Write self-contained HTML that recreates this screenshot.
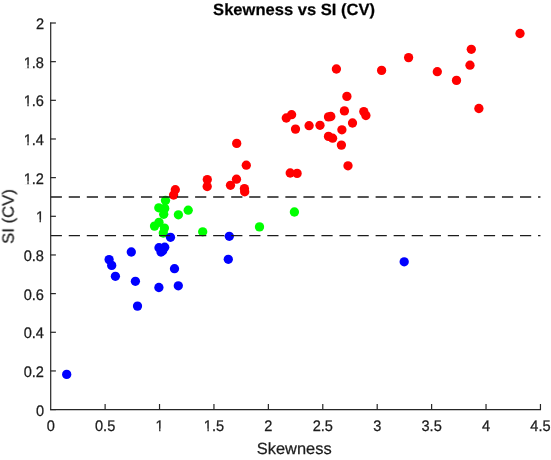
<!DOCTYPE html>
<html><head><meta charset="utf-8"><style>
html,body{margin:0;padding:0;background:#fff;width:551px;height:460px;overflow:hidden}
svg{display:block}
text{font-family:"Liberation Sans",sans-serif;fill:#1c1c1c;stroke:#1c1c1c;stroke-width:0.25px;text-rendering:geometricPrecision}
</style></head><body>
<svg width="551" height="460" viewBox="0 0 551 460">
<g fill="#00ff00"><circle cx="165.5" cy="200.5" r="4.65"/><circle cx="158.8" cy="207.8" r="4.65"/><circle cx="164.7" cy="208.4" r="4.65"/><circle cx="163.7" cy="214.3" r="4.65"/><circle cx="159.0" cy="222.3" r="4.65"/><circle cx="154.5" cy="226.1" r="4.65"/><circle cx="164.4" cy="228.1" r="4.65"/><circle cx="163.3" cy="233.0" r="4.65"/><circle cx="178.4" cy="214.8" r="4.65"/><circle cx="188.2" cy="210.2" r="4.65"/><circle cx="202.7" cy="231.8" r="4.65"/><circle cx="259.5" cy="226.9" r="4.65"/><circle cx="294.4" cy="212.0" r="4.65"/></g>
<g fill="#ff0000"><circle cx="175.3" cy="189.7" r="4.65"/><circle cx="173.6" cy="195.0" r="4.65"/><circle cx="207.3" cy="179.6" r="4.65"/><circle cx="207.2" cy="186.5" r="4.65"/><circle cx="236.5" cy="179.2" r="4.65"/><circle cx="230.5" cy="185.3" r="4.65"/><circle cx="244.4" cy="188.6" r="4.65"/><circle cx="244.7" cy="191.8" r="4.65"/><circle cx="236.7" cy="143.4" r="4.65"/><circle cx="246.3" cy="165.2" r="4.65"/><circle cx="286.3" cy="118.0" r="4.65"/><circle cx="291.6" cy="114.7" r="4.65"/><circle cx="295.5" cy="129.1" r="4.65"/><circle cx="309.1" cy="125.7" r="4.65"/><circle cx="320.0" cy="125.3" r="4.65"/><circle cx="328.5" cy="116.9" r="4.65"/><circle cx="330.8" cy="116.5" r="4.65"/><circle cx="344.4" cy="110.9" r="4.65"/><circle cx="341.9" cy="129.8" r="4.65"/><circle cx="352.5" cy="123.0" r="4.65"/><circle cx="328.5" cy="136.4" r="4.65"/><circle cx="332.6" cy="138.2" r="4.65"/><circle cx="341.4" cy="145.1" r="4.65"/><circle cx="348.0" cy="165.8" r="4.65"/><circle cx="290.2" cy="173.0" r="4.65"/><circle cx="297.1" cy="173.4" r="4.65"/><circle cx="336.4" cy="69.0" r="4.65"/><circle cx="346.9" cy="96.4" r="4.65"/><circle cx="363.8" cy="111.6" r="4.65"/><circle cx="365.9" cy="115.5" r="4.65"/><circle cx="381.6" cy="70.4" r="4.65"/><circle cx="408.6" cy="57.6" r="4.65"/><circle cx="437.3" cy="71.7" r="4.65"/><circle cx="456.5" cy="80.4" r="4.65"/><circle cx="471.3" cy="49.3" r="4.65"/><circle cx="470.0" cy="65.2" r="4.65"/><circle cx="478.9" cy="108.5" r="4.65"/><circle cx="520.0" cy="33.5" r="4.65"/></g>
<g fill="#0000ff"><circle cx="66.7" cy="374.4" r="4.65"/><circle cx="109.1" cy="259.6" r="4.65"/><circle cx="111.7" cy="265.4" r="4.65"/><circle cx="115.4" cy="276.3" r="4.65"/><circle cx="131.3" cy="252.0" r="4.65"/><circle cx="135.4" cy="281.3" r="4.65"/><circle cx="137.5" cy="306.1" r="4.65"/><circle cx="158.9" cy="287.5" r="4.65"/><circle cx="174.5" cy="268.7" r="4.65"/><circle cx="178.3" cy="285.8" r="4.65"/><circle cx="159.0" cy="247.7" r="4.65"/><circle cx="164.7" cy="247.2" r="4.65"/><circle cx="161.0" cy="252.0" r="4.65"/><circle cx="162.7" cy="250.7" r="4.65"/><circle cx="170.5" cy="237.3" r="4.65"/><circle cx="229.3" cy="236.3" r="4.65"/><circle cx="228.3" cy="259.3" r="4.65"/><circle cx="404.2" cy="261.8" r="4.65"/></g>
<line x1="50.70" y1="196.97" x2="540.45" y2="196.97" stroke="#1c1c1c" stroke-width="1.4" stroke-dasharray="11.2 6.85"/>
<line x1="50.70" y1="235.63" x2="540.45" y2="235.63" stroke="#1c1c1c" stroke-width="1.4" stroke-dasharray="11.2 6.85"/>
<g stroke="#262626" stroke-width="1.20" fill="none"><path d="M50.70 22.40 V409.60 H541.05"/><path d="M105.12 409.60 V404.00"/><path d="M159.53 409.60 V404.00"/><path d="M213.95 409.60 V404.00"/><path d="M268.37 409.60 V404.00"/><path d="M322.78 409.60 V404.00"/><path d="M377.20 409.60 V404.00"/><path d="M431.62 409.60 V404.00"/><path d="M486.03 409.60 V404.00"/><path d="M540.45 409.60 V404.00"/><path d="M50.10 409.60 H55.90"/><path d="M50.10 370.94 H55.90"/><path d="M50.10 332.28 H55.90"/><path d="M50.10 293.62 H55.90"/><path d="M50.10 254.96 H55.90"/><path d="M50.10 216.30 H55.90"/><path d="M50.10 177.64 H55.90"/><path d="M50.10 138.98 H55.90"/><path d="M50.10 100.32 H55.90"/><path d="M50.10 61.66 H55.90"/><path d="M50.10 23.00 H55.90"/></g>
<g font-size="14.6" style="will-change:transform"><text transform="translate(50.70 431.20) scale(1 1.050)" text-anchor="middle">0</text><text transform="translate(105.12 431.20) scale(1 1.050)" text-anchor="middle">0.5</text><text transform="translate(159.53 431.20) scale(1 1.050)" text-anchor="middle">1</text><text transform="translate(213.95 431.20) scale(1 1.050)" text-anchor="middle">1.5</text><text transform="translate(268.37 431.20) scale(1 1.050)" text-anchor="middle">2</text><text transform="translate(322.78 431.20) scale(1 1.050)" text-anchor="middle">2.5</text><text transform="translate(377.20 431.20) scale(1 1.050)" text-anchor="middle">3</text><text transform="translate(431.62 431.20) scale(1 1.050)" text-anchor="middle">3.5</text><text transform="translate(486.03 431.20) scale(1 1.050)" text-anchor="middle">4</text><text transform="translate(540.45 431.20) scale(1 1.050)" text-anchor="middle">4.5</text><text transform="translate(44.00 415.50) scale(1 1.050)" text-anchor="end">0</text><text transform="translate(44.00 376.84) scale(1 1.050)" text-anchor="end">0.2</text><text transform="translate(44.00 338.18) scale(1 1.050)" text-anchor="end">0.4</text><text transform="translate(44.00 299.52) scale(1 1.050)" text-anchor="end">0.6</text><text transform="translate(44.00 260.86) scale(1 1.050)" text-anchor="end">0.8</text><text transform="translate(44.00 222.20) scale(1 1.050)" text-anchor="end">1</text><text transform="translate(44.00 183.54) scale(1 1.050)" text-anchor="end">1.2</text><text transform="translate(44.00 144.88) scale(1 1.050)" text-anchor="end">1.4</text><text transform="translate(44.00 106.22) scale(1 1.050)" text-anchor="end">1.6</text><text transform="translate(44.00 67.56) scale(1 1.050)" text-anchor="end">1.8</text><text transform="translate(44.00 28.90) scale(1 1.050)" text-anchor="end">2</text></g>
<g fill="#fff"><rect x="154.97" y="428.60" width="4.17" height="3.80"/><rect x="160.44" y="428.60" width="3.44" height="3.80"/><rect x="203.30" y="428.60" width="4.17" height="3.80"/><rect x="208.76" y="428.60" width="3.44" height="3.80"/><rect x="35.38" y="219.60" width="4.17" height="3.80"/><rect x="40.84" y="219.60" width="3.44" height="3.80"/><rect x="23.21" y="180.94" width="4.17" height="3.80"/><rect x="28.67" y="180.94" width="3.44" height="3.80"/><rect x="23.21" y="142.28" width="4.17" height="3.80"/><rect x="28.67" y="142.28" width="3.44" height="3.80"/><rect x="23.21" y="103.62" width="4.17" height="3.80"/><rect x="28.67" y="103.62" width="3.44" height="3.80"/><rect x="23.21" y="64.96" width="4.17" height="3.80"/><rect x="28.67" y="64.96" width="3.44" height="3.80"/></g>
<g style="will-change:transform"><text x="256.80" y="454.30" font-size="16.20" textLength="74.80" lengthAdjust="spacingAndGlyphs">Skewness</text>
<text transform="translate(13.60 243.90) rotate(-90)" font-size="16.20" textLength="54.80" lengthAdjust="spacingAndGlyphs">SI (CV)</text>
<text x="213.10" y="15.30" font-size="16.30" font-weight="bold" textLength="161.90" lengthAdjust="spacingAndGlyphs" style="fill:#000">Skewness vs SI (CV)</text>
</g></svg>
</body></html>
